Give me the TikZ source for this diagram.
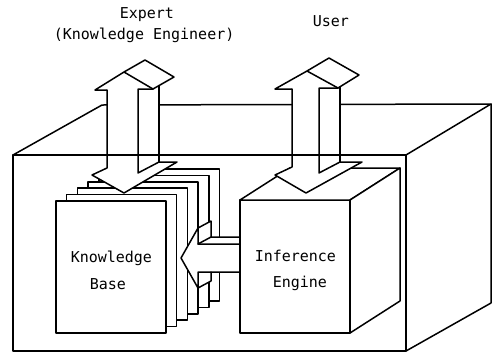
\documentclass[tikz,border=0pt]{standalone}
\usepackage{fontspec}
\newfontfamily\monofont{DejaVu Sans Mono}
\begin{document}
\begin{tikzpicture}[x=1pt,y=-1pt,line width=1.5pt,line join=round,line cap=round,
  lbl/.style={font=\monofont\fontsize{15}{15}\selectfont,inner sep=0pt,anchor=base west},
  solid white/.style={fill=white,draw=none}]
\useasboundingbox (0,0) rectangle (501,354);
% big box: top and right faces
\draw (13,155) -- (102,105) -- (491,104) -- (406,155);
\draw (491,104) -- (491,303) -- (406,351);
% stack of pages (knowledge base)
\foreach \k in {5,4,3,2,1,0}
  \draw[fill=white] ({56+10.7*\k},{201-6.4*\k}) rectangle ({166+10.7*\k},{333-6.4*\k});
% horizontal arrow (inference engine -> knowledge base)
\path[solid white] (181,258) -- (198,228) -- (211,221) -- (211,237) -- (240,237) -- (240,272) -- (211,272) -- (211,281) -- (198,288) -- cycle;
\draw (240,244) -- (198,244) -- (198,228) -- (181,258) -- (198,288) -- (198,272) -- (240,272);
\draw (198,228) -- (211,221) -- (211,237) -- (240,237);
\draw (198,244) -- (211,237);
\draw (198,288) -- (211,281) -- (211,272);
% inference engine cube
\draw[fill=white] (240,200) rectangle (350,333);
\draw[fill=white] (240,200) -- (290,168) -- (400,168) -- (350,200) -- cycle;
\draw[fill=white] (350,200) -- (400,168) -- (400,301) -- (350,333) -- cycle;
% expert arrow
\path[solid white] (95,90) -- (124,72) -- (145,60) -- (174,77) -- (159,86) -- (159,162) -- (177,162) -- (124,193) -- (92,175) -- (107,168) -- (107,90) -- cycle;
\draw (107,90) -- (95,90) -- (124,72) -- (145,60) -- (174,77) -- (153,89) -- (124,72);
\draw (153,89) -- (138,89) -- (138,173) -- (159,162) -- (177,162) -- (124,193) -- (92,175) -- (107,168) -- (107,90);
\draw (159,86) -- (159,162);
% user arrow
\path[solid white] (275,89) -- (307,71) -- (329,58) -- (359,75) -- (340,87) -- (340,162) -- (362,162) -- (306,193) -- (275,175) -- (292,167) -- (292,89) -- cycle;
\draw (292,89) -- (275,89) -- (307,71) -- (329,58) -- (359,75) -- (338,88) -- (307,71);
\draw (338,88) -- (319,88) -- (319,173) -- (340,162) -- (362,162) -- (306,193) -- (275,175) -- (292,167) -- (292,89);
\draw (340,87) -- (340,162);
% big box front face
\draw (13,155) rectangle (406,351);
% labels
\node[lbl] (expert) at (119,18) {Expert};
\node[lbl] (ke) at (53,39.5) {(Knowledge Engineer)};
\node[lbl] (user) at (312,26) {User};
\node[lbl] (kb1) at (70,262) {Knowledge};
\node[lbl] (kb2) at (89,289) {Base};
\node[lbl] (ie1) at (254,261) {Inference};
\node[lbl] (ie2) at (272,287) {Engine};
\end{tikzpicture}
\end{document}
